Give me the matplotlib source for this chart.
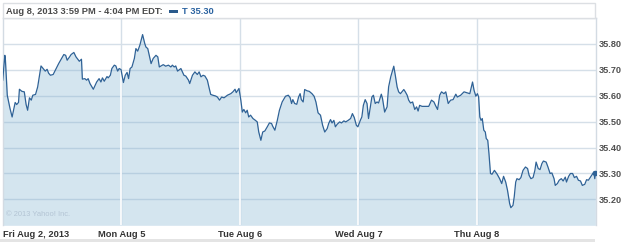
import numpy as np
import matplotlib
matplotlib.use("Agg")
import matplotlib.pyplot as plt
from matplotlib.patches import Rectangle

plt.rcParams['font.family'] = ['Liberation Sans', 'DejaVu Sans']

# AT&T (T) intraday, 5 sessions; minutes after the 9:30 open and price
fri_min = [0, 7, 9, 15, 24, 31, 41, 46, 52, 55, 63, 71, 77, 82, 88, 94, 99, 108, 115, 126,
           135, 140, 146, 151, 157, 166, 184, 201, 207, 212, 220, 225, 234, 241, 245, 252,
           259, 262, 270, 276, 281, 287, 298, 309, 317, 323, 328, 334, 343, 347, 354, 359,
           367, 372, 378, 383, 389]
fri_px = [35.660, 35.756, 35.737, 35.602, 35.551, 35.518, 35.574, 35.566, 35.574, 35.625,
          35.617, 35.615, 35.566, 35.544, 35.592, 35.583, 35.602, 35.605, 35.634, 35.715,
          35.702, 35.695, 35.702, 35.687, 35.679, 35.682, 35.724, 35.759, 35.756, 35.737,
          35.750, 35.759, 35.767, 35.750, 35.744, 35.733, 35.741, 35.664, 35.666, 35.660,
          35.666, 35.647, 35.625, 35.653, 35.666, 35.653, 35.669, 35.656, 35.674, 35.669,
          35.679, 35.705, 35.718, 35.715, 35.695, 35.705, 35.701]

mon_min = [7, 13, 19, 24, 29, 35, 43, 48, 54, 61, 70, 77, 81, 87, 92, 98, 105, 114, 120, 125,
           131, 138, 146, 155, 163, 168, 174, 179, 185, 196, 206, 212, 221, 225, 234, 242,
           250, 256, 262, 269, 275, 283, 288, 294, 301, 310, 316, 323, 330, 338, 349, 360,
           367, 374, 378, 387]
mon_px = [35.651, 35.679, 35.690, 35.666, 35.705, 35.711, 35.744, 35.782, 35.772, 35.795,
          35.836, 35.802, 35.788, 35.782, 35.756, 35.724, 35.744, 35.756, 35.750, 35.711,
          35.715, 35.720, 35.714, 35.718, 35.711, 35.718, 35.711, 35.715, 35.695, 35.705,
          35.679, 35.676, 35.660, 35.647, 35.679, 35.692, 35.682, 35.692, 35.673, 35.679,
          35.676, 35.660, 35.634, 35.605, 35.602, 35.599, 35.595, 35.583, 35.595, 35.592,
          35.602, 35.608, 35.615, 35.625, 35.612, 35.628]

tue_min = [3, 8, 13, 19, 24, 29, 35, 43, 51, 57, 62, 69, 75, 82, 90, 97, 104, 108, 115, 123,
           130, 139, 150, 159, 165, 170, 174, 180, 187, 193, 198, 202, 208, 213, 221, 228,
           237, 244, 250, 257, 265, 272, 279, 287, 292, 298, 303, 309, 314, 320, 328, 334,
           342, 348, 356, 364, 370, 376, 383, 388]
tue_px = [35.583, 35.537, 35.547, 35.534, 35.544, 35.518, 35.525, 35.512, 35.505, 35.499,
          35.460, 35.428, 35.460, 35.464, 35.480, 35.495, 35.493, 35.482, 35.467, 35.505,
          35.544, 35.576, 35.598, 35.602, 35.593, 35.570, 35.585, 35.570, 35.567, 35.595,
          35.608, 35.585, 35.576, 35.624, 35.619, 35.617, 35.608, 35.598, 35.576, 35.534,
          35.525, 35.486, 35.460, 35.473, 35.493, 35.508, 35.495, 35.505, 35.480, 35.490,
          35.499, 35.495, 35.503, 35.499, 35.505, 35.512, 35.531, 35.516, 35.486, 35.480]

wed_min = [6, 11, 16, 22, 28, 33, 39, 44, 49, 55, 61, 66, 75, 79, 86, 94, 99, 106, 112, 116,
           121, 127, 132, 138, 143, 149, 154, 160, 165, 171, 178, 185, 191, 196, 201, 209,
           220, 231, 240, 248, 253, 260, 267, 273, 281, 287, 295, 303, 311, 320, 325, 336,
           347, 358, 366, 375, 380, 386]
wed_px = [35.505, 35.518, 35.563, 35.585, 35.570, 35.512, 35.557, 35.595, 35.602, 35.570,
          35.576, 35.572, 35.606, 35.589, 35.537, 35.557, 35.634, 35.673, 35.698, 35.714,
          35.679, 35.634, 35.615, 35.608, 35.615, 35.624, 35.615, 35.602, 35.583, 35.572,
          35.576, 35.547, 35.557, 35.541, 35.563, 35.559, 35.559, 35.559, 35.583, 35.576,
          35.563, 35.547, 35.602, 35.615, 35.608, 35.615, 35.570, 35.583, 35.585, 35.606,
          35.595, 35.602, 35.615, 35.611, 35.608, 35.653, 35.621, 35.598]

thu_min = [1, 5, 9, 13, 17, 22, 27, 30, 35, 39, 44, 49, 57, 66, 74, 81, 87, 94, 100, 107,
           111, 118, 122, 127, 131, 138, 144, 151, 159, 166, 171, 177, 184, 190, 194, 201,
           207, 213, 218, 227, 233, 240, 246, 253, 257, 264, 270, 277, 283, 290, 294, 301,
           307, 314, 320, 327, 333, 340, 346, 354, 360, 366, 373, 379, 384, 387, 389]
thu_px = [35.608, 35.595, 35.518, 35.505, 35.512, 35.467, 35.460, 35.435, 35.428, 35.377,
          35.300, 35.297, 35.312, 35.297, 35.280, 35.261, 35.289, 35.267, 35.235, 35.184,
          35.168, 35.177, 35.209, 35.267, 35.280, 35.276, 35.284, 35.312, 35.325, 35.319,
          35.293, 35.280, 35.284, 35.312, 35.344, 35.319, 35.315, 35.338, 35.348, 35.344,
          35.325, 35.300, 35.302, 35.280, 35.254, 35.261, 35.274, 35.280, 35.271, 35.286,
          35.267, 35.289, 35.300, 35.300, 35.284, 35.289, 35.274, 35.271, 35.254, 35.258,
          35.276, 35.274, 35.286, 35.297, 35.306, 35.280, 35.302]

day_labels = ["Fri Aug 2, 2013", "Mon Aug 5", "Tue Aug 6", "Wed Aug 7", "Thu Aug 8"]
y_ticks = [35.20, 35.30, 35.40, 35.50, 35.60, 35.70, 35.80]
header = "Aug 8, 2013 3:59 PM - 4:04 PM EDT:"
quote = "T 35.30"
session_len = 390.0

days_min = [fri_min, mon_min, tue_min, wed_min, thu_min]
days_px = [fri_px, mon_px, tue_px, wed_px, thu_px]
x = np.concatenate([d + np.array(m) / session_len for d, m in enumerate(days_min)])
y = np.concatenate([np.array(p) for p in days_px])

W, H = 625, 242
fig = plt.figure(figsize=(W / 100, H / 100), dpi=100)
ax = fig.add_axes([2.7 / W, 1 - 225.3 / H, (595.7 - 2.7) / W, (225.3 - 18) / H])
ymin, ymax = 35.10, 35.90
ax.set_xlim(0, 5)
ax.set_ylim(ymin, ymax)

line_col = '#2f6296'
grid_col = '#d5dfe8'

# horizontal grid below the semi-transparent fill
for t in y_ticks:
    ax.axhline(t, color=grid_col, lw=1.0, zorder=0)
for d in range(1, 5):
    ax.axvline(d, color=grid_col, lw=1.0, zorder=0)

poly = ax.fill_between(x, y, ymin, color='#7fb0d1', alpha=0.33, lw=0, zorder=1)
# day separators are white inside the area
for d in range(1, 5):
    vl = ax.axvline(d, color='white', lw=1.2, zorder=2)
    vl.set_clip_path(poly.get_paths()[0], ax.transData)

ax.plot(x, y, color=line_col, lw=0.9, zorder=3)
ax.plot(x[-1], y[-1], 'o', color=line_col, ms=3, zorder=4)

for s in ax.spines.values():
    s.set_color('#d3dbe3')
    s.set_linewidth(1.0)
ax.spines['bottom'].set_visible(False)

ax.yaxis.tick_right()
ax.set_yticks(y_ticks)
ax.set_yticklabels([f"{t:.2f}" for t in y_ticks])
ax.tick_params(axis='y', length=0, pad=2, labelsize=6.6, labelcolor='#505050')
for lb in ax.get_yticklabels():
    lb.set_fontweight('bold')

ax.set_xticks(range(5))
ax.set_xticklabels(day_labels)
ax.tick_params(axis='x', length=0, pad=3.2, labelsize=6.7, labelcolor='#333333')
for i, lb in enumerate(ax.get_xticklabels()):
    lb.set_fontweight('bold')
    if i == 0:
        lb.set_horizontalalignment('left')

ax.text(0.006, 0.035, "\u00a9 2013 Yahoo! Inc.", transform=ax.transAxes, fontsize=5.4,
        color='#b3c4d4', va='bottom', ha='left')

# header bar
fig.patches.append(Rectangle((3 / W, 1 - 18 / H), (595 - 3) / W, 15 / H, transform=fig.transFigure,
                             facecolor='white', edgecolor='#dcdfe3', lw=1.0))
fig.text(5.5 / W, 1 - 11 / H, header, fontsize=6.7, fontweight='bold', color='#4a4a4a',
         va='center', ha='left')
fig.patches.append(Rectangle((169 / W, 1 - 12.5 / H), 9 / W, 3 / H, transform=fig.transFigure,
                             facecolor='#2a5a8c', edgecolor='none'))
fig.text(182 / W, 1 - 11 / H, quote, fontsize=6.7, fontweight='bold', color='#2a62a0',
         va='center', ha='left')

# grey band at the bottom
fig.patches.append(Rectangle((0, 0), 595 / W, 3 / H, transform=fig.transFigure,
                             facecolor='#e4e4e4', edgecolor='none'))

fig.savefig("out.png", dpi=100)
